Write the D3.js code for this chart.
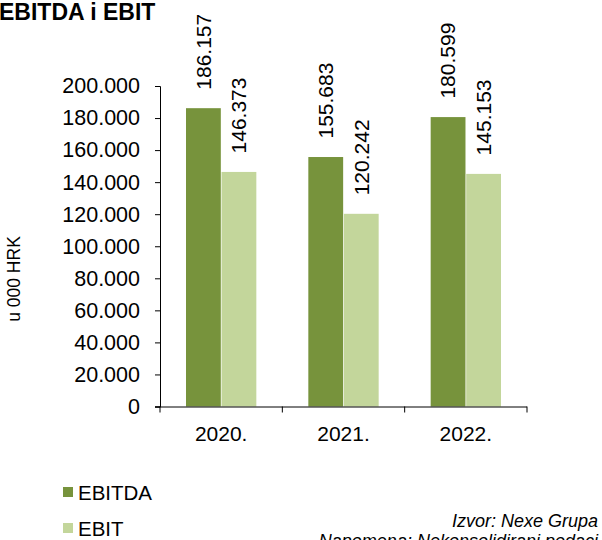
<!DOCTYPE html>
<html>

<head>
    <meta charset="UTF-8">
    <style>
        body {
            margin: 0;
            background: #fff;
        }

        text {
            font-family: "Liberation Sans", Arial, sans-serif;
        }

        .domain,
        .tick line {
            stroke: #000;
        }
    </style>
</head>

<body>
    <svg></svg>
    <script src="https://d3js.org/d3.v7.min.js"></script>

    <script>

        let width = 602, height = 540;

        // chart data
        let years = ["2020.", "2021.", "2022."];
        let series = ["EBITDA", "EBIT"];
        let ebitda = [186157, 155683, 180599];
        let ebit = [146373, 120242, 145153];
        let colors = ["#77933c", "#c3d69b"];
        let yTicks = [0, 20000, 40000, 60000, 80000, 100000, 120000, 140000, 160000, 180000, 200000];

        let rows = years.map((y, i) => ({ year: y, values: [ebitda[i], ebit[i]] }));

        let svg = d3.select("svg")
            .attr("width", width)
            .attr("height", height);

        // number format with dot as thousands separator
        let fmt = v => d3.format(",.0f")(v).replace(/,/g, ".");

        let x0 = d3.scaleBand()
            .domain(years)
            .range([160, 527]);

        let x1 = d3.scaleBand()
            .domain(series)
            .range([26, x0.bandwidth() - 26])
            .paddingInner(0.02);

        let y = d3.scaleLinear()
            .domain([0, 200000])
            .range([406.5, 86]);

        // title
        svg.append("text")
            .attr("x", -1)
            .attr("y", 20)
            .attr("font-size", 23)
            .attr("font-weight", "bold")
            .text("EBITDA i EBIT");

        // y axis
        svg.append("g")
            .attr("transform", "translate(160,0)")
            .call(d3.axisLeft(y).tickValues(yTicks).tickFormat(fmt).tickSize(5).tickPadding(15))
            .call(g => g.selectAll("text").attr("font-size", 21.5).attr("font-family", "Liberation Sans, Arial, sans-serif"));

        svg.append("text")
            .attr("transform", "translate(20,279) rotate(-90)")
            .attr("text-anchor", "middle")
            .attr("font-size", 17.5)
            .text("u 000 HRK");

        // bars
        let groups = svg.append("g")
            .selectAll("g")
            .data(rows)
            .enter()
            .append("g")
            .attr("transform", d => "translate(" + x0(d.year) + ",0)");

        groups.selectAll("rect")
            .data(d => d.values.map((v, i) => ({ key: series[i], value: v, i: i })))
            .enter()
            .append("rect")
            .attr("x", d => x1(d.key))
            .attr("width", x1.bandwidth())
            .attr("y", d => y(d.value))
            .attr("height", d => y(0) - y(d.value))
            .attr("fill", d => colors[d.i]);

        // value labels, rotated above each bar
        groups.selectAll("text.val")
            .data(d => d.values.map((v, i) => ({ key: series[i], value: v })))
            .enter()
            .append("text")
            .attr("class", "val")
            .attr("transform", d => "translate(" + (x1(d.key) + x1.bandwidth() / 2) + "," + (y(d.value) - 18.5) + ") rotate(-90)")
            .attr("dy", "0.35em")
            .attr("font-size", 21)
            .text(d => fmt(d.value));

        // x axis
        svg.append("g")
            .attr("transform", "translate(0," + y(0) + ")")
            .call(d3.axisBottom(x0).tickSize(0).tickPadding(20).tickSizeOuter(0))
            .call(g => g.selectAll("text").attr("font-size", 21).attr("font-family", "Liberation Sans, Arial, sans-serif"))
            .call(g => g.select(".domain").attr("d", "M155,0.5H527"));

        // x axis ticks between categories
        let bounds = years.map(d => x0(d)).concat([x0(years[years.length - 1]) + x0.bandwidth()]);
        svg.append("g")
            .selectAll("line")
            .data(bounds)
            .enter()
            .append("line")
            .attr("x1", d => d).attr("x2", d => d)
            .attr("y1", y(0)).attr("y2", y(0) + 6)
            .attr("stroke", "#000");

        // legend
        let legend = svg.append("g")
            .selectAll("g")
            .data(series)
            .enter()
            .append("g")
            .attr("transform", (d, i) => "translate(63," + (487 + i * 36) + ")");

        legend.append("rect")
            .attr("width", 10)
            .attr("height", 10)
            .attr("fill", (d, i) => colors[i]);

        legend.append("text")
            .attr("x", 15)
            .attr("y", 13)
            .attr("font-size", 20.5)
            .text(d => d);

        // source notes
        svg.append("text")
            .attr("x", 598)
            .attr("y", 527)
            .attr("text-anchor", "end")
            .attr("font-size", 18)
            .attr("font-style", "italic")
            .text("Izvor: Nexe Grupa");

        svg.append("text")
            .attr("x", 598)
            .attr("y", 547)
            .attr("text-anchor", "end")
            .attr("font-size", 18)
            .attr("font-style", "italic")
            .text("Napomena: Nekonsolidirani podaci");

    </script>

</body>

</html>
